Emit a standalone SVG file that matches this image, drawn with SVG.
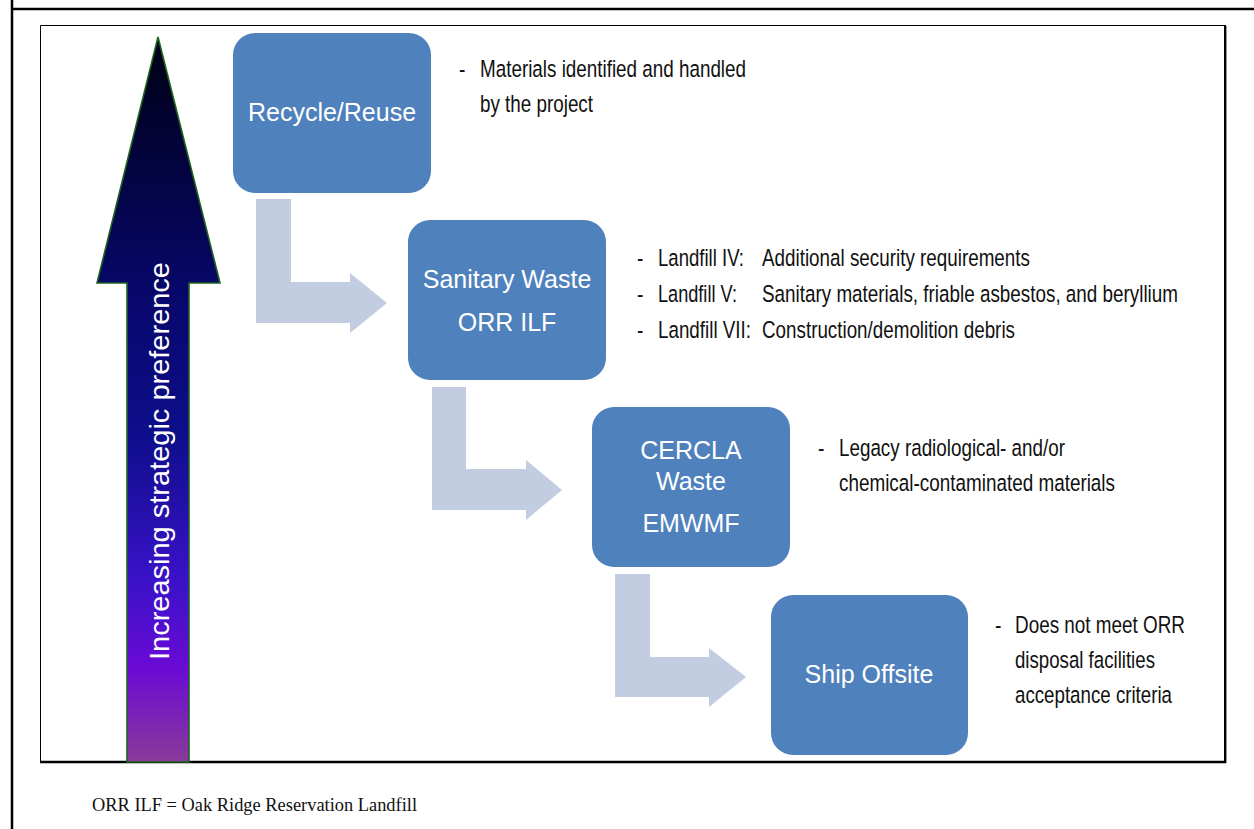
<svg xmlns="http://www.w3.org/2000/svg" width="1254" height="829" viewBox="0 0 1254 829">
<defs>
<linearGradient id="pref" gradientUnits="userSpaceOnUse" x1="0" y1="37" x2="0" y2="762">
<stop offset="0" stop-color="#000014"/>
<stop offset="0.35" stop-color="#07076a"/>
<stop offset="0.55" stop-color="#0e0e8c"/>
<stop offset="0.75" stop-color="#3a12c8"/>
<stop offset="0.87" stop-color="#6a0ad6"/>
<stop offset="1" stop-color="#8a3a98"/>
</linearGradient>
</defs>
<style>
.box{fill:#4f81bd;}
.lbl{font-family:"Liberation Sans",Arial,sans-serif;font-size:25px;fill:#ffffff;text-anchor:middle;}
.note{font-family:"Liberation Sans",Arial,sans-serif;font-size:23.5px;fill:#111111;}
.bent{fill:#c3cde2;}
.foot{font-family:"Liberation Serif","Times New Roman",serif;font-size:18px;fill:#111111;}
</style>
<rect x="0" y="0" width="1254" height="829" fill="#ffffff"/>
<g id="frame" fill="none" stroke="#000000">
<line x1="12" y1="0" x2="12" y2="829" stroke-width="2.5"/>
<line x1="12" y1="9" x2="1254" y2="9" stroke-width="2.5"/>
<line x1="40.5" y1="25.5" x2="1225" y2="25.5" stroke-width="1"/>
<line x1="40.5" y1="25.5" x2="40.5" y2="762" stroke-width="1"/>
<line x1="1226.5" y1="26" x2="1226.5" y2="763" stroke="#9a9a9a" stroke-width="1"/>
<line x1="1225" y1="25" x2="1225" y2="763" stroke-width="2"/>
<line x1="40" y1="762" x2="1226" y2="762" stroke-width="2.5"/>
</g>
<g id="preference-arrow">
<polygon points="158,37 220,283 189,283 189,762 127,762 127,283 97,283" fill="url(#pref)" stroke="#1e631e" stroke-width="1.6" stroke-linejoin="miter"/>
<text transform="translate(169,461) rotate(-90)" font-family="'Liberation Sans',Arial,sans-serif" font-size="28" fill="#ffffff" text-anchor="middle" textLength="398" lengthAdjust="spacingAndGlyphs">Increasing strategic preference</text>
</g>
<g id="connectors">
<path class="bent" d="M256,199 H291 V282 H350 V273 L387,303 L350,333 V323 H256 Z"/>
<path class="bent" d="M432,387 H466 V469 H526 V460 L562,490 L526,520 V510 H432 Z"/>
<path class="bent" d="M615,574 H650 V657 H709 V648 L746,677 L709,707 V697 H615 Z"/>
</g>
<g id="recycle">
<rect class="box" x="233" y="33" width="198" height="160" rx="22"/>
<text class="lbl" x="332" y="121">Recycle/Reuse</text>
</g>
<g id="sanitary">
<rect class="box" x="408" y="220" width="198" height="160" rx="22"/>
<text class="lbl" x="507" y="288">Sanitary Waste</text>
<text class="lbl" x="507" y="331">ORR ILF</text>
</g>
<g id="cercla">
<rect class="box" x="592" y="407" width="198" height="160" rx="22"/>
<text class="lbl" x="691" y="459">CERCLA</text>
<text class="lbl" x="691" y="490">Waste</text>
<text class="lbl" x="691" y="532">EMWMF</text>
</g>
<g id="offsite">
<rect class="box" x="771" y="595" width="197" height="160" rx="22"/>
<text class="lbl" x="869" y="683">Ship Offsite</text>
</g>
<g id="note-recycle">
<text class="note" transform="translate(459,77) scale(0.82,1)">-</text>
<text class="note" transform="translate(480,77) scale(0.82,1)" textLength="324.4" lengthAdjust="spacingAndGlyphs">Materials identified and handled</text>
<text class="note" transform="translate(480,112) scale(0.82,1)" textLength="137.8" lengthAdjust="spacingAndGlyphs">by the project</text>
</g>
<g id="note-sanitary">
<text class="note" transform="translate(637,266) scale(0.82,1)">-</text>
<text class="note" transform="translate(658,266) scale(0.82,1)" textLength="104.9" lengthAdjust="spacingAndGlyphs">Landfill IV:</text>
<text class="note" transform="translate(762,266) scale(0.82,1)" textLength="326.8" lengthAdjust="spacingAndGlyphs">Additional security requirements</text>
<text class="note" transform="translate(637,302) scale(0.82,1)">-</text>
<text class="note" transform="translate(658,302) scale(0.82,1)" textLength="96.3" lengthAdjust="spacingAndGlyphs">Landfill V:</text>
<text class="note" transform="translate(762,302) scale(0.82,1)" textLength="507.3" lengthAdjust="spacingAndGlyphs">Sanitary materials, friable asbestos, and beryllium</text>
<text class="note" transform="translate(637,338) scale(0.82,1)">-</text>
<text class="note" transform="translate(658,338) scale(0.82,1)" textLength="113.4" lengthAdjust="spacingAndGlyphs">Landfill VII:</text>
<text class="note" transform="translate(762,338) scale(0.82,1)" textLength="308.5" lengthAdjust="spacingAndGlyphs">Construction/demolition debris</text>
</g>
<g id="note-cercla">
<text class="note" transform="translate(818,456) scale(0.82,1)">-</text>
<text class="note" transform="translate(839,456) scale(0.82,1)" textLength="275.6" lengthAdjust="spacingAndGlyphs">Legacy radiological- and/or</text>
<text class="note" transform="translate(839,491) scale(0.82,1)" textLength="336.6" lengthAdjust="spacingAndGlyphs">chemical-contaminated materials</text>
</g>
<g id="note-offsite">
<text class="note" transform="translate(995,633) scale(0.82,1)">-</text>
<text class="note" transform="translate(1015,633) scale(0.82,1)" textLength="207.3" lengthAdjust="spacingAndGlyphs">Does not meet ORR</text>
<text class="note" transform="translate(1015,668) scale(0.82,1)" textLength="170.7" lengthAdjust="spacingAndGlyphs">disposal facilities</text>
<text class="note" transform="translate(1015,703) scale(0.82,1)" textLength="191.5" lengthAdjust="spacingAndGlyphs">acceptance criteria</text>
</g>
<g id="footnote">
<text class="foot" x="92" y="811" textLength="325" lengthAdjust="spacingAndGlyphs">ORR ILF = Oak Ridge Reservation Landfill</text>
</g>
</svg>
